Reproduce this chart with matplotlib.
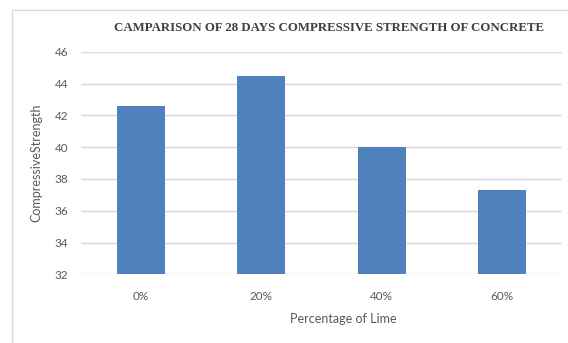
import matplotlib
matplotlib.use("Agg")
import matplotlib.pyplot as plt
from matplotlib.patches import Rectangle

# Chart data
categories = ["0%", "20%", "40%", "60%"]
strength = [42.6, 44.5, 40.0, 37.3]
y_ticks = [32, 34, 36, 38, 40, 42, 44, 46]

W, H = 568, 343
fig = plt.figure(figsize=(W / 100, H / 100), dpi=100)
fig.patch.set_facecolor("white")

# Outer chart border
fig.patches.append(Rectangle((12 / W, -0.05), 1.2, (H - 9.5) / H + 0.05,
                             transform=fig.transFigure, fill=False,
                             edgecolor="#d9d9d9", linewidth=1.0))

ax = fig.add_axes([81 / W, 1 - 274.3 / H, (562 - 81) / W, (274.3 - 51.7) / H])
ax.set_facecolor("none")

x = range(len(categories))
ax.bar(x, [v - 32 for v in strength], bottom=32, width=0.4,
       color="#4f81bd", zorder=3)

ax.set_xlim(-0.5, len(categories) - 0.5)
ax.set_ylim(32, 46)
ax.set_yticks(y_ticks)
ax.set_yticklabels([str(t) for t in y_ticks])
ax.set_xticks(list(x))
ax.set_xticklabels(categories)

ax.grid(axis="y", color="#d9d9d9", linewidth=1.0, zorder=0)
ax.grid(axis="x", visible=False)
for s in ax.spines.values():
    s.set_visible(False)
ax.tick_params(axis="both", length=0, labelsize=8.5, colors="#595959")
ax.tick_params(axis="y", pad=9)
ax.tick_params(axis="x", pad=12)
for lab in ax.get_xticklabels() + ax.get_yticklabels():
    lab.set_fontfamily("Lato")

fig.text(329 / W, 1 - 28 / H,
         "CAMPARISON OF 28 DAYS COMPRESSIVE STRENGTH OF CONCRETE",
         ha="center", va="center", fontsize=9.3, fontweight="bold",
         family="Liberation Serif", color="#404040")
fig.text(343 / W, 1 - 319 / H, "Percentage of Lime", ha="center",
         va="center", fontsize=9, family="Lato", color="#595959")
fig.text(36 / W, 1 - 163 / H, "CompressiveStrength", ha="center",
         va="center", rotation=90, fontsize=9, family="Lato",
         color="#595959")

fig.savefig("out.png", dpi=100)
